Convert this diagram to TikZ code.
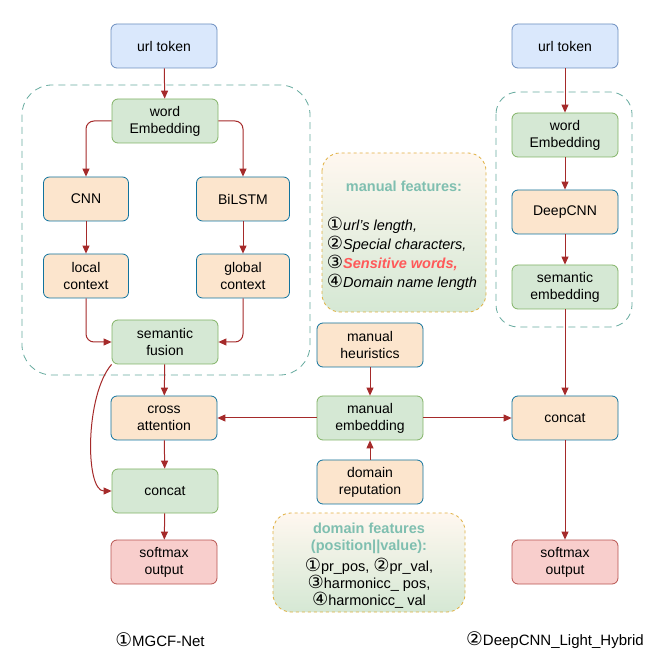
\documentclass[tikz,border=0pt]{standalone}
\usepackage{fontspec}
\setmainfont{Liberation Sans}
\newfontfamily\circfont{DejaVu Sans}[Scale=1.25]
\usetikzlibrary{arrows.meta}
\definecolor{bluefill}{HTML}{DAE8FC}\definecolor{blueline}{HTML}{6C8EBF}
\definecolor{greenfill}{HTML}{D5E8D4}\definecolor{greenline}{HTML}{82B366}
\definecolor{orangefill}{HTML}{FCE5CD}\definecolor{tealline}{HTML}{10739E}
\definecolor{redfill}{HTML}{F8CECC}\definecolor{redline}{HTML}{B85450}
\definecolor{arrowred}{HTML}{A52A2A}\definecolor{dashteal}{HTML}{67AB9F}
\definecolor{featteal}{HTML}{7FBFB0}\definecolor{featorange}{HTML}{E0B040}
\newcommand{\cn}[1]{{\circfont #1}}
\tikzset{
  box/.style={rounded corners=6pt, minimum width=106pt, minimum height=44pt, align=center, font=\fontsize{14}{17}\selectfont, line width=0.8pt},
  inbox/.style={box, fill=bluefill, draw=blueline},
  embbox/.style={box, fill=greenfill, draw=greenline},
  procbox/.style={box, fill=orangefill, draw=tealline},
  outbox/.style={box, fill=redfill, draw=redline},
  region/.style={draw=dashteal, dashed, dash pattern=on 7pt off 5pt, rounded corners=30pt, line width=0.8pt},
  featbox/.style={draw=featorange, dashed, rounded corners=18pt, top color=orange!6, bottom color=greenfill, line width=0.8pt},
  flow/.style={-{Triangle[length=8pt,width=7pt]}, draw=arrowred, line width=1pt},
}
\begin{document}
\begin{tikzpicture}[x=1pt, y=-1pt]
\useasboundingbox[fill=white] (0,0) rectangle (657,655);
% regions and feature panels
\draw[region] (22,85) rectangle (310,375);
\draw[region, rounded corners=22pt] (496,92) rectangle (632,327);
\draw[featbox] (322,153) rectangle (486,312);
\draw[featbox] (273,513) rectangle (465,612);
\node[font=\fontsize{14.5}{17}\selectfont\bfseries, text=featteal] (mftitle) at (404,186) {manual features:};
\node[align=left, font=\fontsize{14.5}{19}\selectfont\itshape] (mflist) at (402,254)
  {\cn{①}url's length,\\ \cn{②}Special characters,\\ \cn{③}\textcolor{red!65}{\bfseries Sensitive words,}\\ \cn{④}Domain name length};
\node[align=center, font=\fontsize{14.5}{17}\selectfont\bfseries, text=featteal] (dftitle) at (369,538) {domain features\\(position||value):};
\node[align=center, font=\fontsize{14.5}{17}\selectfont] (dflist) at (369,583)
  {\cn{①}pr\_pos, \cn{②}pr\_val,\\ \cn{③}harmonicc\_ pos,\\ \cn{④}harmonicc\_ val};
% left model
\node[inbox] (lurl) at (164,46) {url token};
\node[embbox] (lword) at (165,121) {word\\Embedding};
\node[procbox, minimum width=85pt] (cnn) at (86,199) {CNN};
\node[procbox, minimum width=93pt] (bilstm) at (243,199) {BiLSTM};
\node[procbox, minimum width=85pt] (local) at (86,276) {local\\context};
\node[procbox, minimum width=93pt] (global) at (243,276) {global\\context};
\node[embbox] (fusion) at (165,342) {semantic\\fusion};
\node[procbox] (cross) at (164,418) {cross\\attention};
\node[embbox] (lconcat) at (165,491) {concat};
\node[outbox] (lsoft) at (164,562) {softmax\\output};
% manual branch
\node[procbox] (heur) at (370,345) {manual\\heuristics};
\node[embbox] (memb) at (370,418) {manual\\embedding};
\node[procbox] (rep) at (370,482) {domain\\reputation};
% right model
\node[inbox] (rurl) at (565,46) {url token};
\node[embbox] (rword) at (565,135) {word\\Embedding};
\node[procbox] (deep) at (565,212) {DeepCNN};
\node[embbox] (sem) at (565,287) {semantic\\embedding};
\node[procbox] (rconcat) at (565,418) {concat};
\node[outbox] (rsoft) at (565,562) {softmax\\output};
% captions
\node[font=\fontsize{15}{17}\selectfont] (lcap) at (160,640) {\cn{①}MGCF-Net};
\node[font=\fontsize{15}{17}\selectfont] (rcap) at (555,640) {\cn{②}DeepCNN\_Light\_Hybrid};
% connectors
\draw[flow] (lurl) -- (lword);
\draw[flow, rounded corners=8pt] (lword.west) -| (cnn.north);
\draw[flow, rounded corners=8pt] (lword.east) -| (bilstm.north);
\draw[flow] (cnn) -- (local);
\draw[flow] (bilstm) -- (global);
\draw[flow, rounded corners=8pt] (local.south) |- (fusion.west);
\draw[flow, rounded corners=8pt] (global.south) |- (fusion.east);
\draw[flow] (fusion) -- (cross);
\draw[flow] (fusion.south west) .. controls (85,395) and (85,491) .. (lconcat.west);
\draw[flow] (cross) -- (lconcat);
\draw[flow] (lconcat) -- (lsoft);
\draw[flow] (heur) -- (memb);
\draw[flow] (rep) -- (memb);
\draw[flow] (memb) -- (cross);
\draw[flow] (memb) -- (rconcat);
\draw[flow] (rurl) -- (rword);
\draw[flow] (rword) -- (deep);
\draw[flow] (deep) -- (sem);
\draw[flow] (sem) -- (rconcat);
\draw[flow] (rconcat) -- (rsoft);
\end{tikzpicture}
\end{document}
